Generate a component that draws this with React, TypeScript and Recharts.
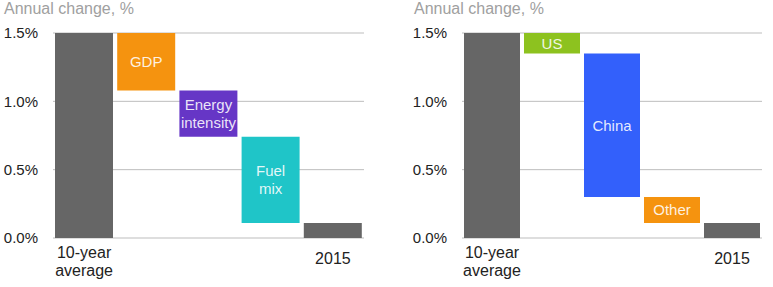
import React from 'react';
import { BarChart, Bar, XAxis, YAxis, CartesianGrid, Cell, LabelList } from 'recharts';

// left panel: decomposition by driver
const leftCategories = ['10-year average', 'GDP', 'Energy intensity', 'Fuel mix', '2015'];
const leftLow = [0, 1.08, 0.74, 0.11, 0];
const leftHigh = [1.5, 1.5, 1.08, 0.74, 0.11];
const leftBarLabels = ['', 'GDP', 'Energy\nintensity', 'Fuel\nmix', ''];

// right panel: decomposition by region
const rightCategories = ['10-year average', 'US', 'China', 'Other', '2015'];
const rightLow = [0, 1.35, 0.3, 0.11, 0];
const rightHigh = [1.5, 1.5, 1.35, 0.3, 0.11];
const rightBarLabels = ['', 'US', 'China', 'Other', ''];

const axisLabels = ['10-year\naverage', '', '', '', '2015'];
const yTicks = [0, 0.5, 1.0, 1.5];

const leftColors = ['#666666', '#f5930f', '#6636c6', '#1fc5c8', '#666666'];
const rightColors = ['#666666', '#8dc21f', '#3360fb', '#f5930f', '#666666'];

const FONT = '"Liberation Sans", Arial, sans-serif';

const buildData = (cats: string[], low: number[], high: number[], labels: string[]) =>
    cats.map((name, i) => ({
        name,
        base: low[i],
        delta: +(high[i] - low[i]).toFixed(2),
        label: labels[i],
        axis: axisLabels[i]
    }));

const BarText = (props: any) => {
    const { x, y, width, height, value } = props;
    if (!value) return null;
    const lines = String(value).split('\n');
    const cx = x + width / 2;
    const cy = y + height / 2;
    const lh = 18;
    const start = cy - ((lines.length - 1) * lh) / 2;
    return (
        <text x={cx} textAnchor="middle" fill="#ffffff" fillOpacity={0.88} fontSize={15} fontFamily={FONT}>
            {lines.map((l, i) => (
                <tspan key={i} x={cx} y={start + i * lh} dy="0.35em">{l}</tspan>
            ))}
        </text>
    );
};

const makeTick = (data: any[]) => (props: any) => {
    const { x, y, index } = props;
    const txt = data[index] ? data[index].axis : '';
    if (!txt) return <g />;
    const lines = txt.split('\n');
    return (
        <text x={x} textAnchor="middle" fill="#222" fontSize={16} fontFamily={FONT}>
            {lines.length > 1
                ? lines.map((l: string, i: number) => (
                    <tspan key={i} x={x} y={y + 20 + i * 18}>{l}</tspan>
                ))
                : <tspan x={x} y={y + 26}>{txt}</tspan>}
        </text>
    );
};

interface PanelProps {
    data: any[];
    colors: string[];
    width: number;
    rightMargin: number;
    barSize: number;
}

const Panel: React.FC<PanelProps> = ({ data, colors, width, rightMargin, barSize }) => (
    <BarChart
        width={width}
        height={287}
        data={data}
        margin={{ top: 33, right: rightMargin, bottom: 0, left: 0 }}
    >
        <CartesianGrid horizontal vertical={false} stroke="#bdbdbd" />
        <XAxis
            dataKey="name"
            axisLine={false}
            tickLine={false}
            tickSize={0}
            tickMargin={0}
            height={49}
            interval={0}
            tick={makeTick(data)}
        />
        <YAxis
            width={53}
            domain={[0, 1.5]}
            ticks={yTicks}
            axisLine={false}
            tickLine={false}
            tickSize={5}
            tickMargin={10}
            tickFormatter={(v: number) => v.toFixed(1) + '%'}
            tick={{ fill: '#222', fontSize: 15, fontFamily: FONT }}
        />
        <Bar dataKey="base" stackId="w" fill="transparent" barSize={barSize} isAnimationActive={false} />
        <Bar dataKey="delta" stackId="w" barSize={barSize} isAnimationActive={false}>
            {data.map((d, i) => (
                <Cell key={d.name} fill={colors[i]} />
            ))}
            <LabelList dataKey="label" content={BarText} />
        </Bar>
    </BarChart>
);

const titleStyle: React.CSSProperties = {
    position: 'absolute',
    top: 0,
    fontSize: 16,
    color: '#a0a0a0',
    fontFamily: FONT,
    whiteSpace: 'nowrap'
};

export default function App() {
    const leftData = buildData(leftCategories, leftLow, leftHigh, leftBarLabels);
    const rightData = buildData(rightCategories, rightLow, rightHigh, rightBarLabels);
    return (
        <div style={{ position: 'absolute', left: 0, top: 0, width: 773, height: 287, background: '#fff', fontFamily: FONT }}>
            <div style={{ ...titleStyle, left: 4 }}>Annual change, %</div>
            <div style={{ ...titleStyle, left: 414 }}>Annual change, %</div>
            <div style={{ position: 'absolute', left: 0, top: 0 }}>
                <Panel data={leftData} colors={leftColors} width={380} rightMargin={16} barSize={58} />
            </div>
            <div style={{ position: 'absolute', left: 409, top: 0 }}>
                <Panel data={rightData} colors={rightColors} width={364} rightMargin={11} barSize={56} />
            </div>
        </div>
    );
}
